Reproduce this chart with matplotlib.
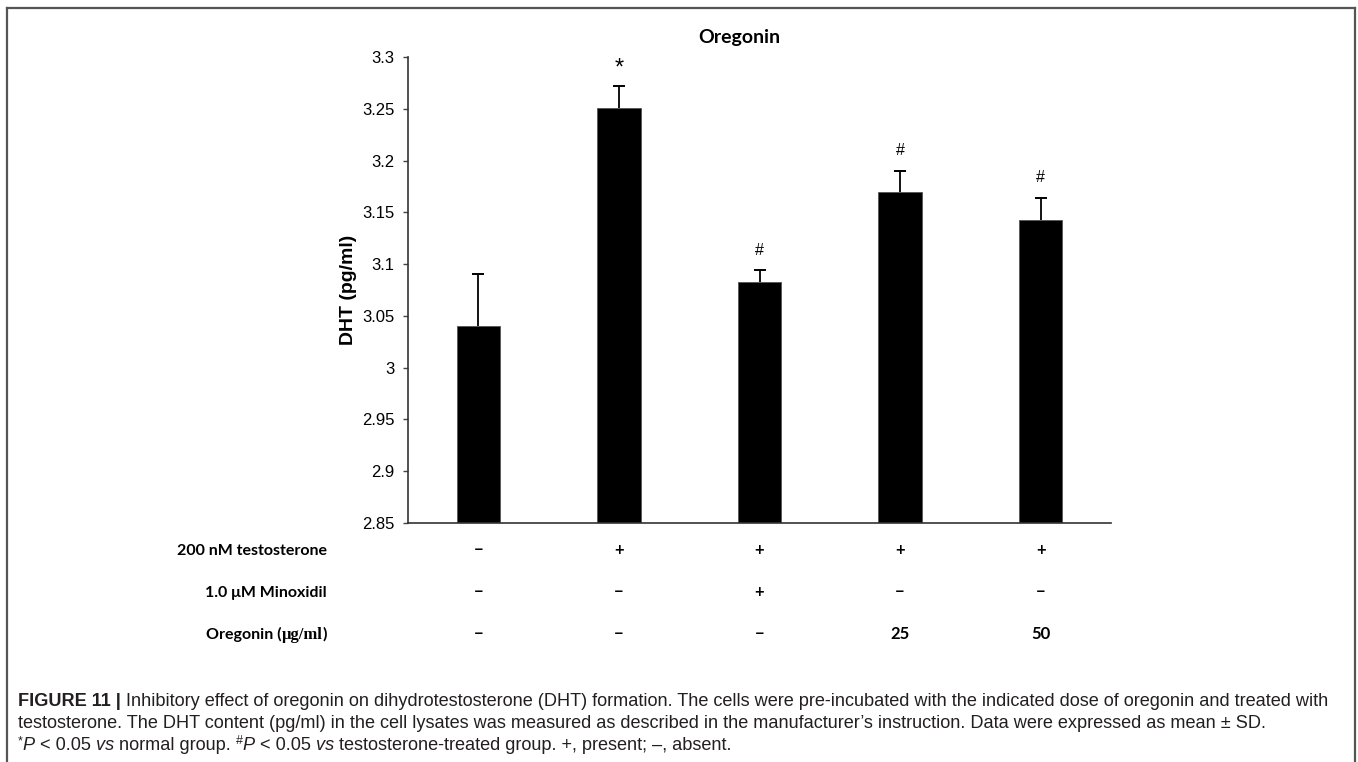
import matplotlib
matplotlib.use('Agg')
import matplotlib.pyplot as plt
from matplotlib.lines import Line2D
import numpy as np

# data
groups = ['normal', 'testosterone', 'minoxidil', 'oregonin 25', 'oregonin 50']
dht = [3.040, 3.251, 3.083, 3.170, 3.143]
dht_sd = [0.050, 0.021, 0.011, 0.020, 0.021]
sig_marks = ['', '*', '#', '#', '#']

row_names = ['200 nM testosterone', '1.0 \u03bcM Minoxidil', 'Oregonin (\u03bcg/ml)']
row_marks = [
    ['\u2212', '+', '+', '+', '+'],
    ['\u2212', '\u2212', '+', '\u2212', '\u2212'],
    ['\u2212', '\u2212', '\u2212', '25', '50'],
]
y_ticks = [2.85, 2.9, 2.95, 3.0, 3.05, 3.1, 3.15, 3.2, 3.25, 3.3]
y_tick_labels = ['2.85', '2.9', '2.95', '3', '3.05', '3.1', '3.15', '3.2', '3.25', '3.3']

W, H = 1358, 762
SANS = 'Liberation Sans'
BOLD_LABEL = 'Lato'


def fx(px):
    return px / W


def fy(py):
    return 1 - py / H


def put_pieces(fig, x, y, pieces, align='left'):
    """Write several text pieces one after another on one baseline (pixel coords).
    A piece may carry 'rise' (pixels) to lift it above the baseline."""
    renderer = fig.canvas.get_renderer()
    widths = []
    for txt, kw in pieces:
        kw = {k: v for k, v in kw.items() if k != 'rise'}
        t = fig.text(0, 0, txt, **kw)
        widths.append(t.get_window_extent(renderer).width)
        t.remove()
    cur = x - sum(widths) if align == 'right' else x
    for (txt, kw), w in zip(pieces, widths):
        rise = kw.get('rise', 0)
        kw = {k: v for k, v in kw.items() if k != 'rise'}
        fig.text(fx(cur), fy(y - rise), txt, va='baseline', ha='left', **kw)
        cur += w


fig = plt.figure(figsize=(W / 100, H / 100), dpi=100)
ax = fig.add_axes([fx(408), fy(523), fx(1111) - fx(408), fy(57) - fy(523)])

x = np.arange(len(groups))
tops = np.array(dht) + np.array(dht_sd)
ax.bar(x, dht, width=0.31, color='black', edgecolor='#555555', linewidth=0.6, zorder=2)
# upper error bars only
ax.vlines(x, dht, tops, color='black', linewidth=1.3, zorder=3)
ax.plot(x, tops, linestyle='none', marker='_', markersize=8, markeredgewidth=1.4,
        color='black', zorder=3)

for xi, top, m in zip(x, tops, sig_marks):
    if not m:
        continue
    if m == '*':
        ax.annotate(m, (xi, top), xytext=(0, 5), textcoords='offset points',
                    ha='center', va='bottom', fontsize=17, family=SANS)
    else:
        ax.annotate(m, (xi, top), xytext=(0, 9), textcoords='offset points',
                    ha='center', va='bottom', fontsize=11.5, family=SANS)

ax.set_xlim(-0.5, len(groups) - 0.5)
ax.set_ylim(2.85, 3.3)
ax.set_yticks(y_ticks)
ax.set_yticklabels(y_tick_labels, fontsize=12, family=SANS)
ax.set_xticks([])
ax.tick_params(axis='y', direction='out', length=3.6, width=1, color='#444444', pad=6)
for side in ['top', 'right']:
    ax.spines[side].set_visible(False)
ax.spines['left'].set_color('#333333')
ax.spines['bottom'].set_color('#333333')
ax.spines['left'].set_linewidth(1.2)
ax.spines['bottom'].set_linewidth(1.2)
ax.set_ylabel('DHT (pg/ml)', fontsize=14, fontweight='bold', family=SANS, labelpad=4)

fig.text(fx(739), fy(37), 'Oregonin', ha='center', va='center', fontsize=14,
         fontweight='bold', family=BOLD_LABEL)

# treatment rows under the bars
row_y = [555, 597, 639]
bold_kw = dict(fontsize=11.5, fontweight='bold', family=BOLD_LABEL)
serif_kw = dict(fontsize=12, fontweight='bold', family='Liberation Serif')
mark_kw = dict(fontsize=12, fontweight='bold', family=BOLD_LABEL)
for name, marks, ry in zip(row_names, row_marks, row_y):
    if name.startswith('Oregonin'):
        pieces = [('Oregonin (', bold_kw), ('\u03bcg/ml', serif_kw), (')', bold_kw)]
    else:
        pieces = [(name, bold_kw)]
    put_pieces(fig, 327, ry, pieces, align='right')
    for xi, m in zip(x, marks):
        px = ax.transData.transform((xi, 0))[0]
        fig.text(px / W, fy(ry), m, ha='center', va='baseline', **mark_kw)

# outer frame of the figure panel
frame_kw = dict(color='#555555', linewidth=1.6, transform=fig.transFigure)
fig.add_artist(Line2D([fx(7), fx(7)], [0, fy(8)], **frame_kw))
fig.add_artist(Line2D([fx(7), fx(1355)], [fy(8), fy(8)], **frame_kw))
fig.add_artist(Line2D([fx(1355), fx(1355)], [0, fy(8)], **frame_kw))

# caption
cap = dict(fontsize=13.1, family=SANS, color='#231f20')
cap_b = dict(cap, fontweight='bold')
cap_i = dict(cap, style='italic')
cap_sup = dict(cap, fontsize=9, rise=6)
put_pieces(fig, 18, 706, [
    ('FIGURE 11 |', cap_b),
    (' Inhibitory effect of oregonin on dihydrotestosterone (DHT) formation. The cells were '
     'pre-incubated with the indicated dose of oregonin and treated with', cap),
])
put_pieces(fig, 18, 728, [
    ('testosterone. The DHT content (pg/ml) in the cell lysates was measured as described in the '
     'manufacturer\u2019s instruction. Data were expressed as mean \u00b1 SD.', cap),
])
put_pieces(fig, 18, 750, [
    ('*', cap_sup), ('P', cap_i), (' < 0.05 ', cap), ('vs', cap_i), (' normal group. ', cap),
    ('#', cap_sup), ('P', cap_i), (' < 0.05 ', cap), ('vs', cap_i),
    (' testosterone-treated group. +, present; \u2013, absent.', cap),
])

fig.savefig('out.png', dpi=100)
